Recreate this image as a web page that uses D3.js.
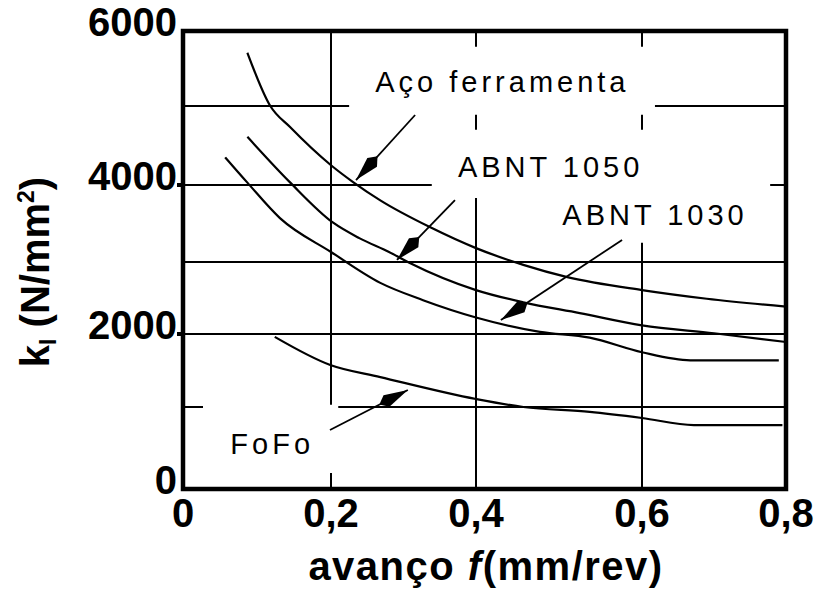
<!DOCTYPE html>
<html>
<head>
<meta charset="utf-8">
<script src="https://cdnjs.cloudflare.com/ajax/libs/d3/7.8.5/d3.min.js"></script>
<style>
  body { margin: 0; background: #fff; }
  svg { display: block; }
  .tick-label { font-family: "Liberation Sans", Arial, sans-serif; font-weight: bold; font-size: 40px; fill: #000; }
  .title { font-family: "Liberation Sans", Arial, sans-serif; font-weight: bold; fill: #000; }
  .note { font-family: "Liberation Sans", Arial, sans-serif; font-size: 29px; letter-spacing: 4px; fill: #000; }
</style>
</head>
<body>
<div id="chart"></div>
<script>
// DATA  (f = avanço in mm/rev, k = N/mm2)
const fAco  = [0.087, 0.118, 0.145, 0.20, 0.23, 0.268, 0.337, 0.40, 0.457, 0.51, 0.60, 0.69, 0.80];
const kAco  = [5710, 5000, 4730, 4250, 4040, 3800, 3450, 3180, 2960, 2790, 2610, 2490, 2380];

const f1050 = [0.087, 0.145, 0.203, 0.239, 0.28, 0.308, 0.40, 0.457, 0.525, 0.60, 0.70, 0.80];
const k1050 = [4610, 4030, 3510, 3310, 3130, 2990, 2610, 2440, 2290, 2120, 2010, 1890];

const f1030 = [0.057, 0.087, 0.131, 0.20, 0.268, 0.327, 0.40, 0.477, 0.537, 0.60, 0.667, 0.79];
const k1030 = [4350, 4030, 3570, 3130, 2710, 2470, 2230, 2030, 1950, 1750, 1640, 1640];

const fFoFo = [0.124, 0.199, 0.268, 0.40, 0.457, 0.537, 0.60, 0.672, 0.795];
const kFoFo = [1960, 1575, 1410, 1110, 1000, 940, 866, 780, 780];

const seriesNames = ["Aço ferramenta", "ABNT 1050", "ABNT 1030", "FoFo"];

const xTicks = [0, 0.2, 0.4, 0.6, 0.8];
const xTickLabels = ["0", "0,2", "0,4", "0,6", "0,8"];
const yTicks = [0, 2000, 4000, 6000];
const yTickLabels = ["0", "2000", "4000", "6000"];

// CHART DIMENSIONS
const width = 828, height = 591;

// hand drawn grid is not evenly spaced, so piecewise scales
const x = d3.scaleLinear()
    .domain([0, 0.2, 0.4, 0.6, 0.8])
    .range([183, 331, 476, 642, 786]);
const y = d3.scaleLinear()
    .domain([0, 1000, 2000, 3000, 4000, 5000, 6000])
    .range([489, 407, 334, 262, 185, 106, 31]);

const svg = d3.select("#chart")
    .append("svg")
    .attr("width", width)
    .attr("height", height);

// GRID (broken where the labels sit)
const hGrid = [
    {k: 5000, from: 0, to: 0.225}, {k: 5000, from: 0.618, to: 0.8},
    {k: 4000, from: 0, to: 0.339}, {k: 4000, from: 0.778, to: 0.8},
    {k: 3000, from: 0, to: 0.8},
    {k: 2000, from: 0, to: 0.8},
    {k: 1000, from: 0, to: 0.027}, {k: 1000, from: 0.21, to: 0.8}
];
const vGrid = [
    {f: 0.2, from: 1030, to: 6000}, {f: 0.2, from: 0, to: 195},
    {f: 0.4, from: 5790, to: 6000}, {f: 0.4, from: 4700, to: 4890}, {f: 0.4, from: 0, to: 3830},
    {f: 0.6, from: 5790, to: 6000}, {f: 0.6, from: 4700, to: 4890}, {f: 0.6, from: 0, to: 3250}
];

const grid = svg.append("g").attr("stroke", "#000").attr("stroke-width", 2);
grid.selectAll(".hg").data(hGrid).enter().append("line")
    .attr("x1", d => x(d.from)).attr("x2", d => x(d.to))
    .attr("y1", d => y(d.k)).attr("y2", d => y(d.k));
grid.selectAll(".vg").data(vGrid).enter().append("line")
    .attr("x1", d => x(d.f)).attr("x2", d => x(d.f))
    .attr("y1", d => y(d.from)).attr("y2", d => y(d.to));

// CURVES
const curves = [
    {name: seriesNames[0], f: fAco,  k: kAco},
    {name: seriesNames[1], f: f1050, k: k1050},
    {name: seriesNames[2], f: f1030, k: k1030},
    {name: seriesNames[3], f: fFoFo, k: kFoFo}
];
const line = d3.line()
    .x(d => x(d[0]))
    .y(d => y(d[1]))
    .curve(d3.curveMonotoneX);

svg.append("g").selectAll("path")
    .data(curves)
    .enter().append("path")
    .attr("d", d => line(d.f.map((v, i) => [v, d.k[i]])))
    .attr("fill", "none")
    .attr("stroke", "#000")
    .attr("stroke-width", 2.2);

// FRAME
svg.append("rect")
    .attr("x", x(0)).attr("y", y(6000))
    .attr("width", x(0.8) - x(0)).attr("height", y(0) - y(6000))
    .attr("fill", "none").attr("stroke", "#000").attr("stroke-width", 4.5);

// small ticks left of the axis at 2000 / 4000
svg.append("g").selectAll("line")
    .data([2000, 4000])
    .enter().append("line")
    .attr("x1", x(0) - 6).attr("x2", x(0))
    .attr("y1", d => y(d)).attr("y2", d => y(d))
    .attr("stroke", "#000").attr("stroke-width", 4);

// TICK LABELS
svg.append("g").selectAll("text")
    .data(xTicks)
    .enter().append("text")
    .attr("class", "tick-label")
    .attr("x", d => x(d))
    .attr("y", 527)
    .attr("text-anchor", "middle")
    .text((d, i) => xTickLabels[i]);

svg.append("g").selectAll("text")
    .data(yTicks)
    .enter().append("text")
    .attr("class", "tick-label")
    .attr("x", 177)
    .attr("y", d => y(d) + 5)
    .attr("text-anchor", "end")
    .text((d, i) => yTickLabels[i]);

// AXIS TITLES
const xt = svg.append("text")
    .attr("class", "title")
    .attr("x", 486)
    .attr("y", 580)
    .attr("text-anchor", "middle")
    .style("font-size", "40px")
    .style("letter-spacing", "1.5px");
xt.append("tspan").text("avanço ");
xt.append("tspan").style("font-style", "italic").text("f");
xt.append("tspan").text("(mm/rev)");

const yt = svg.append("text")
    .attr("class", "title")
    .attr("transform", "translate(49,272) rotate(-90)")
    .attr("text-anchor", "middle")
    .style("font-size", "40px");
yt.append("tspan").text("k");
yt.append("tspan").attr("dy", 7).style("font-size", "23px").text("I");
yt.append("tspan").attr("dy", -7).text(" (N/mm");
yt.append("tspan").attr("dy", -15).style("font-size", "23px").text("2");
yt.append("tspan").attr("dy", 15).text(")");

// ANNOTATIONS
const notes = [
    {text: seriesNames[0], f: 0.261, k: 5190},
    {text: seriesNames[1], f: 0.375, k: 4100},
    {text: seriesNames[2], f: 0.504, k: 3480},
    {text: seriesNames[3], f: 0.064, k: 427}
];
svg.append("g").selectAll("text")
    .data(notes)
    .enter().append("text")
    .attr("class", "note")
    .attr("x", d => x(d.f))
    .attr("y", d => y(d.k))
    .text(d => d.text);

const arrows = [
    {f0: 0.316, k0: 4886, f1: 0.2345, k1: 4063},
    {f0: 0.371, k0: 3805, f1: 0.291,  k1: 3026},
    {f0: 0.576, k0: 3286, f1: 0.430,  k1: 2194},
    {f0: 0.1986, k0: 720, f1: 0.306,  k1: 1233}
];
const ag = svg.append("g");
arrows.forEach(a => {
    const x0 = x(a.f0), y0 = y(a.k0), x1 = x(a.f1), y1 = y(a.k1);
    const ang = Math.atan2(y1 - y0, x1 - x0);
    ag.append("line")
        .attr("x1", x0).attr("y1", y0).attr("x2", x1).attr("y2", y1)
        .attr("stroke", "#000").attr("stroke-width", 1.8);
    const len = 32, hw = 6.5;
    const bx = x1 - len * Math.cos(ang), by = y1 - len * Math.sin(ang);
    const mx = x1 - len * 0.75 * Math.cos(ang), my = y1 - len * 0.75 * Math.sin(ang);
    const px = -Math.sin(ang), py = Math.cos(ang);
    ag.append("path")
        .attr("d", "M" + x1 + "," + y1 +
            "L" + (mx + px * hw) + "," + (my + py * hw) +
            "L" + bx + "," + by +
            "L" + (mx - px * hw) + "," + (my - py * hw) + "Z")
        .attr("fill", "#000");
});
</script>
</body>
</html>
